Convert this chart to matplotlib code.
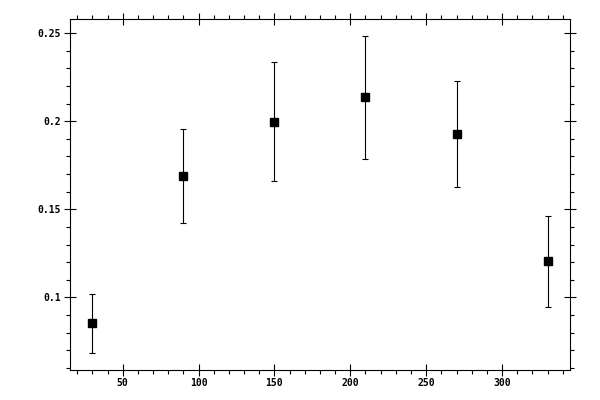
import matplotlib
matplotlib.use("Agg")
import matplotlib.pyplot as plt
from matplotlib.ticker import MultipleLocator, FormatStrFormatter

x = [30, 90, 150, 210, 270, 330]
y = [0.0852, 0.1689, 0.1996, 0.2137, 0.1927, 0.1204]
err = [0.0167, 0.0265, 0.0338, 0.0350, 0.0303, 0.0260]

plt.rcParams['font.family'] = 'DejaVu Sans Mono'
plt.rcParams['font.size'] = 7
plt.rcParams['font.weight'] = 'bold'

fig = plt.figure(figsize=(6, 4), dpi=100)
ax = fig.add_axes([0.116, 0.075, 0.8345, 0.877])

ax.errorbar(x, y, yerr=err, fmt='s', color='black', ms=5.5,
            elinewidth=0.8, capsize=2.5, capthick=0.8, ecolor='black')

ax.set_xlim(15, 345)
ax.set_ylim(0.0587, 0.258)

ax.xaxis.set_major_locator(MultipleLocator(50))
ax.xaxis.set_minor_locator(MultipleLocator(10))
ax.yaxis.set_major_locator(MultipleLocator(0.05))
ax.yaxis.set_minor_locator(MultipleLocator(0.01))
ax.yaxis.set_major_formatter(FormatStrFormatter('%g'))

ax.tick_params(which='major', direction='inout', length=8, width=0.8,
               top=True, right=True, labeltop=False, labelright=False, pad=2)
ax.tick_params(which='minor', direction='out', length=3, width=0.8,
               top=True, right=True)
for s in ax.spines.values():
    s.set_linewidth(0.8)

plt.savefig("out.png")
